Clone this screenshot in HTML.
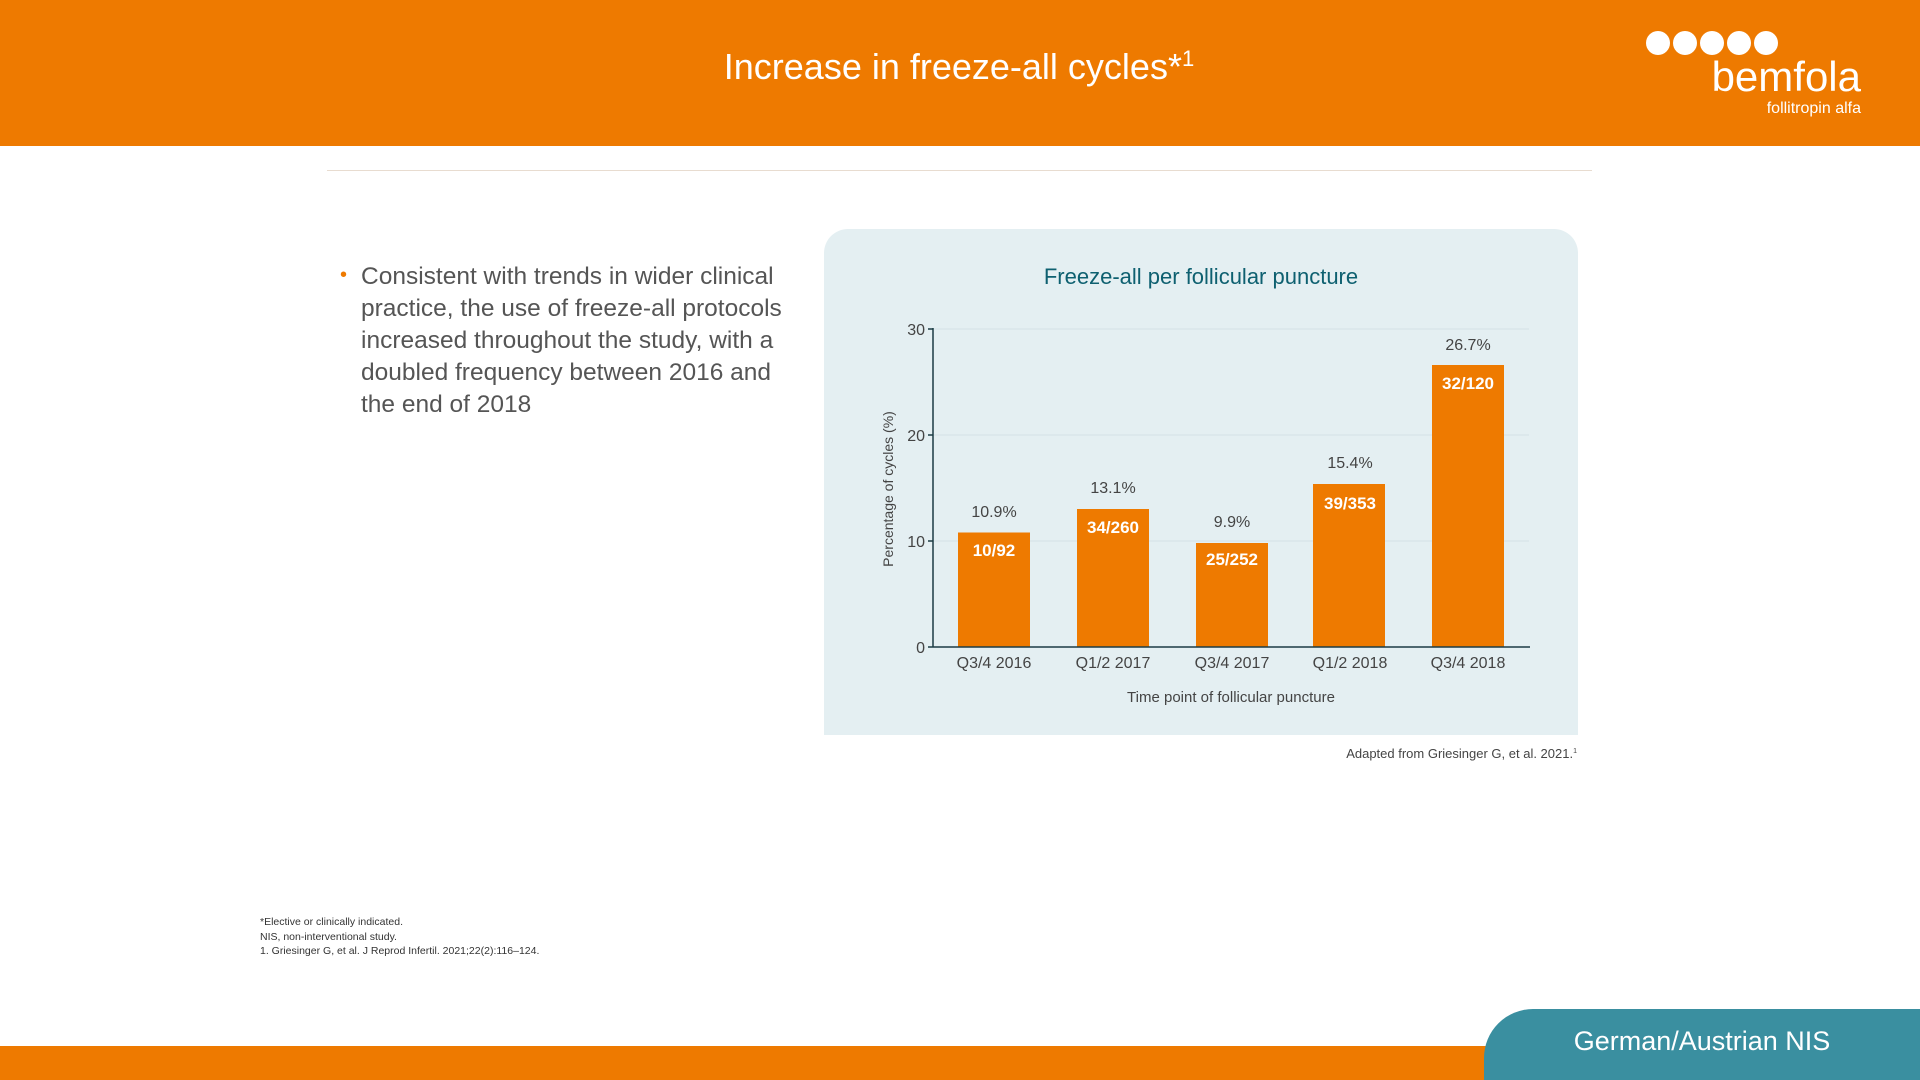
<!DOCTYPE html>
<html><head><meta charset="utf-8"><style>
html,body{margin:0;padding:0;width:1920px;height:1080px;overflow:hidden;background:#fff;font-family:"Liberation Sans",sans-serif;position:relative}
.abs{position:absolute}
</style></head><body>
<div class="abs" style="left:0;top:0;width:1920px;height:146px;background:#EE7A00"></div>
<div class="abs" style="left:0;top:46px;width:1918px;text-align:center;color:#fff;font-size:36px;">Increase in freeze-all cycles*<sup style="font-size:22px">1</sup></div>
<svg class="abs" style="left:0;top:0" width="1920" height="146">
<g fill="#fff"><circle cx="1658" cy="43" r="12"/><circle cx="1685" cy="43" r="12"/><circle cx="1712" cy="43" r="12"/><circle cx="1739" cy="43" r="12"/><circle cx="1766" cy="43" r="12"/></g>
<text x="1861" y="91" text-anchor="end" fill="#fff" font-size="42" font-family="Liberation Sans">bemfola</text>
<text x="1861" y="113" text-anchor="end" fill="#fff" font-size="16" font-family="Liberation Sans">follitropin alfa</text>
</svg>
<div class="abs" style="left:327px;top:170px;width:1265px;height:1px;background:#e8dcd0"></div>
<div class="abs" style="left:340px;top:264px;color:#EE7A00;font-size:20px">•</div>
<div class="abs" style="left:361px;top:261px;width:430px;color:#555;font-size:24.5px;line-height:32px">Consistent with trends in wider clinical practice, the use of freeze-all protocols increased throughout the study, with a doubled frequency between 2016 and the end of 2018</div>
<div class="abs" style="left:824px;top:229px;width:754px;height:506px;background:#e4eff2;border-radius:24px 24px 0 0"></div>
<svg class="abs" style="left:0;top:0" width="1920" height="1080" font-family="Liberation Sans">
<text x="1201" y="284" text-anchor="middle" fill="#0e6070" font-size="22">Freeze-all per follicular puncture</text>
<g stroke="#d4e2e6" stroke-width="1"><line x1="933" y1="329" x2="1529" y2="329"/><line x1="933" y1="435" x2="1529" y2="435"/><line x1="933" y1="541" x2="1529" y2="541"/></g>
<g fill="#EE7A00">
<rect x="958" y="532.5" width="72" height="114.5"/>
<rect x="1077" y="509" width="72" height="138"/>
<rect x="1196" y="543" width="72" height="104"/>
<rect x="1313" y="484" width="72" height="163"/>
<rect x="1432" y="365" width="72" height="282"/>
</g>
<g stroke="#1c3c44" stroke-width="1.5"><line x1="933" y1="328" x2="933" y2="647"/><line x1="933" y1="647" x2="1530" y2="647"/>
<line x1="928" y1="329" x2="933" y2="329"/><line x1="928" y1="435" x2="933" y2="435"/><line x1="928" y1="541" x2="933" y2="541"/><line x1="928" y1="647" x2="933" y2="647"/></g>
<g fill="#444" font-size="16" text-anchor="end"><text x="925" y="335">30</text><text x="925" y="441">20</text><text x="925" y="547">10</text><text x="925" y="653">0</text></g>
<g fill="#444" font-size="16" text-anchor="middle">
<text x="994" y="517">10.9%</text><text x="1113" y="493">13.1%</text><text x="1232" y="527">9.9%</text><text x="1350" y="468">15.4%</text><text x="1468" y="350">26.7%</text>
<text x="994" y="668">Q3/4 2016</text><text x="1113" y="668">Q1/2 2017</text><text x="1232" y="668">Q3/4 2017</text><text x="1350" y="668">Q1/2 2018</text><text x="1468" y="668">Q3/4 2018</text>
<text x="1231" y="702" font-size="15">Time point of follicular puncture</text>
</g>
<g fill="#fff" font-size="17" font-weight="bold" text-anchor="middle">
<text x="994" y="556">10/92</text><text x="1113" y="533">34/260</text><text x="1232" y="565">25/252</text><text x="1350" y="509">39/353</text><text x="1468" y="389">32/120</text>
</g>
<text transform="translate(893,489) rotate(-90)" text-anchor="middle" fill="#444" font-size="14">Percentage of cycles (%)</text>
<text x="1577" y="758" text-anchor="end" fill="#444" font-size="13">Adapted from Griesinger G, et al. 2021.<tspan font-size="7" dy="-5">1</tspan></text>
<g fill="#333" font-size="10.5"><text x="260" y="925">*Elective or clinically indicated.</text><text x="260" y="940">NIS, non-interventional study.</text><text x="260" y="954">1. Griesinger G, et al. J Reprod Infertil. 2021;22(2):116–124.</text></g>
</svg>
<div class="abs" style="left:0;top:1046px;width:1920px;height:34px;background:#EE7A00"></div>
<div class="abs" style="left:1484px;top:1009px;width:436px;height:71px;background:#3a8fa0;border-radius:49px 0 0 0"></div>
<div class="abs" style="left:1484px;top:1026px;width:436px;text-align:center;color:#fff;font-size:27px">German/Austrian NIS</div>
</body></html>
